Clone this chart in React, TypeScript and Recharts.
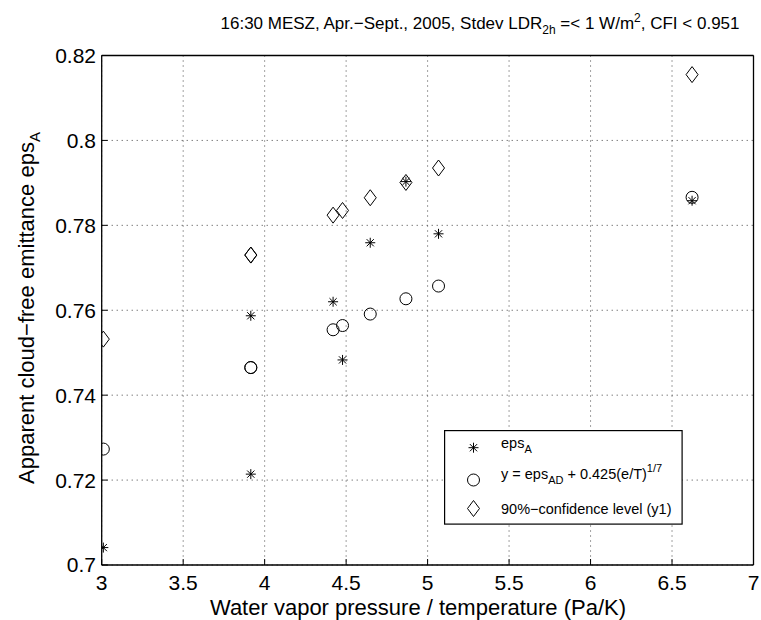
import React from "react";
import {
  ScatterChart,
  Scatter,
  XAxis,
  YAxis,
  CartesianGrid,
  Legend,
  Customized,
} from "recharts";

// ---- data ----
const xValues = [3.01, 3.915, 3.915, 4.42, 4.478, 4.648, 4.867, 5.067, 6.623];
const epsA = [0.7041, 0.7214, 0.7587, 0.762, 0.7483, 0.7759, 0.7903, 0.778, 0.7858];
const fitValues = [0.7273, 0.7465, 0.7465, 0.7554, 0.7564, 0.7591, 0.7627, 0.7657, 0.7866];
const confValues = [0.7532, 0.773, 0.773, 0.7824, 0.7835, 0.7865, 0.7901, 0.7935, 0.8155];

const xTicks = [3, 3.5, 4, 4.5, 5, 5.5, 6, 6.5, 7];
const yTicks = [0.7, 0.72, 0.74, 0.76, 0.78, 0.8, 0.82];

const starData = xValues.map((x, i) => ({ x, y: epsA[i] }));
const circleData = xValues.map((x, i) => ({ x, y: fitValues[i] }));
const diamondData = xValues.map((x, i) => ({ x, y: confValues[i] }));

const FONT = "'Liberation Sans', Arial, Helvetica, sans-serif";

const StarMark = ({ cx, cy }: any) => {
  const r = 5;
  const d = 3.6;
  return (
    <g stroke="#000" strokeWidth={1} fill="none">
      <line x1={cx - r} y1={cy} x2={cx + r} y2={cy} />
      <line x1={cx} y1={cy - r} x2={cx} y2={cy + r} />
      <line x1={cx - d} y1={cy - d} x2={cx + d} y2={cy + d} />
      <line x1={cx - d} y1={cy + d} x2={cx + d} y2={cy - d} />
    </g>
  );
};

const CircleMark = ({ cx, cy }: any) => (
  <circle cx={cx} cy={cy} r={6} stroke="#000" strokeWidth={1} fill="none" />
);

const DiamondMark = ({ cx, cy }: any) => (
  <path
    d={`M${cx},${cy - 8} L${cx + 6},${cy} L${cx},${cy + 8} L${cx - 6},${cy} Z`}
    stroke="#000"
    strokeWidth={1}
    fill="none"
  />
);

const legendItems = [
  { key: "star", Mark: StarMark, dy: 17.7 },
  { key: "circle", Mark: CircleMark, dy: 50 },
  { key: "diamond", Mark: DiamondMark, dy: 78.5 },
];

const LegendBox = () => (
  <svg width={239} height={95} style={{ display: "block" }}>
    <rect x={0.6} y={0.6} width={237.5} height={93.5} fill="#fff" stroke="#000" strokeWidth={1.2} />
    {legendItems.map((it, i) => {
      const cy = it.dy;
      const M = it.Mark;
      return (
        <g key={it.key}>
          <M cx={29.5} cy={cy} />
          {i === 0 && (
            <text x={57} y={cy} fontFamily={FONT} fontSize={14.5} fill="#000">
              eps<tspan dy={5} fontSize={11}>A</tspan>
            </text>
          )}
          {i === 1 && (
            <text x={57} y={cy - 1} fontFamily={FONT} fontSize={14.5} fill="#000">
              y = eps<tspan dy={5} fontSize={11}>AD</tspan>
              <tspan dy={-5}> + 0.425(e/T)</tspan>
              <tspan dy={-7} fontSize={11}>1/7</tspan>
            </text>
          )}
          {i === 2 && (
            <text x={57} y={cy + 5} fontFamily={FONT} fontSize={14.5} fill="#000">
              90%−confidence level (y1)
            </text>
          )}
        </g>
      );
    })}
  </svg>
);

const Texts = () => (
  <g fontFamily={FONT} fill="#000">
    <text x={480} y={29} textAnchor="middle" fontSize={17}>
      16:30 MESZ, Apr.−Sept., 2005, Stdev LDR
      <tspan dy={5} fontSize={12}>2h</tspan>
      <tspan dy={-5}>{" =< 1 W/m"}</tspan>
      <tspan dy={-7} fontSize={12}>2</tspan>
      <tspan dy={7}>{", CFI < 0.951"}</tspan>
    </text>
    <text x={418} y={615} textAnchor="middle" fontSize={22}>
      Water vapor pressure / temperature (Pa/K)
    </text>
    <text
      x={0}
      y={0}
      textAnchor="middle"
      fontSize={22}
      transform="translate(34,308) rotate(-90)"
    >
      Apparent cloud−free emittance eps
      <tspan dy={6} fontSize={15}>A</tspan>
    </text>
  </g>
);

export default function App() {
  return (
    <div style={{ position: "absolute", left: 0, top: 0, width: 761, height: 620, background: "#fff" }}>
      <ScatterChart
        width={761}
        height={620}
        margin={{ top: 54.5, right: 6.5, bottom: 54, left: 100.7 }}
        style={{ fontFamily: FONT }}
      >
        <CartesianGrid xAxisId="b" yAxisId="l" stroke="#444" strokeDasharray="1 4" strokeWidth={1} />
        <XAxis
          xAxisId="b"
          type="number"
          dataKey="x"
          domain={[3, 7]}
          ticks={xTicks}
          allowDataOverflow
          height={1}
          tickSize={-6}
          tickMargin={16}
          axisLine={{ stroke: "#000", strokeWidth: 1.3 }}
          tickLine={{ stroke: "#000" }}
          tick={{ fill: "#000", fontSize: 21, fontFamily: FONT }}
          interval={0}
        />
        <XAxis
          xAxisId="t"
          orientation="top"
          type="number"
          dataKey="x"
          domain={[3, 7]}
          ticks={xTicks}
          allowDataOverflow
          height={1}
          tickSize={-6}
          axisLine={{ stroke: "#000", strokeWidth: 1.3 }}
          tickLine={{ stroke: "#000" }}
          tick={false}
          interval={0}
        />
        <YAxis
          yAxisId="l"
          type="number"
          dataKey="y"
          domain={[0.7, 0.82]}
          ticks={yTicks}
          allowDataOverflow
          width={1}
          tickSize={-6}
          tickMargin={11.7}
          axisLine={{ stroke: "#000", strokeWidth: 1.3 }}
          tickLine={{ stroke: "#000" }}
          tick={{ fill: "#000", fontSize: 21, fontFamily: FONT }}
          tickFormatter={(v: number) => String(Number(v.toFixed(2)))}
          interval={0}
        />
        <YAxis
          yAxisId="r"
          orientation="right"
          type="number"
          dataKey="y"
          domain={[0.7, 0.82]}
          ticks={yTicks}
          allowDataOverflow
          width={1}
          tickSize={-6}
          axisLine={{ stroke: "#000", strokeWidth: 1.3 }}
          tickLine={{ stroke: "#000" }}
          tick={false}
          interval={0}
        />
        <Scatter xAxisId="b" yAxisId="l" data={starData} shape={<StarMark />} isAnimationActive={false} />
        <Scatter xAxisId="b" yAxisId="l" data={circleData} shape={<CircleMark />} isAnimationActive={false} />
        <Scatter xAxisId="b" yAxisId="l" data={diamondData} shape={<DiamondMark />} isAnimationActive={false} />
        <Scatter xAxisId="t" yAxisId="r" data={diamondData} shape={() => <g />} isAnimationActive={false} />
        <Legend
          layout="horizontal"
          verticalAlign="middle"
          align="center"
          content={() => <LegendBox />}
          wrapperStyle={{ position: "absolute", left: 444, top: 430, width: 239, height: 95 }}
        />
        <Customized component={Texts} />
      </ScatterChart>
    </div>
  );
}
